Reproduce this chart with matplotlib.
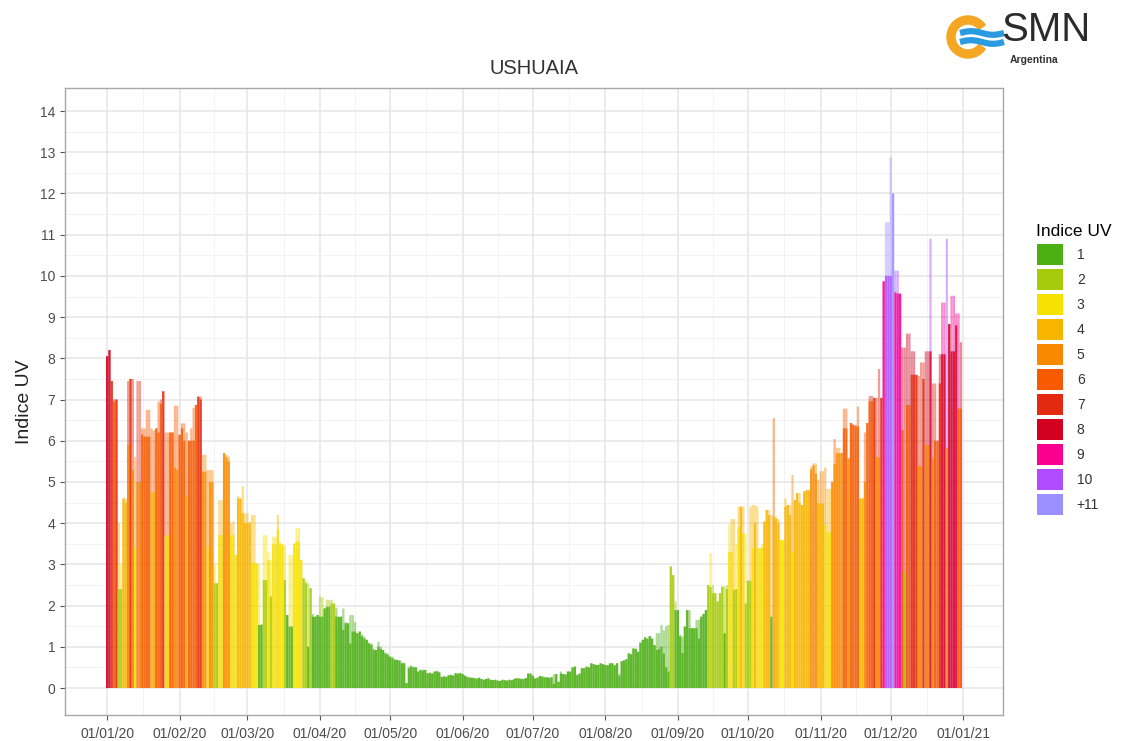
import numpy as np
import pandas as pd
import matplotlib
matplotlib.use('Agg')
import matplotlib.pyplot as plt
import matplotlib.dates as mdates
from matplotlib.patches import Patch, Wedge

plt.rcParams['font.family'] = ['Liberation Sans', 'DejaVu Sans']

# Indice UV diario, Ushuaia 2020 (max = barra clara, obs = barra plena)
max_ene = [8.05, 8.2, 7.45, 7.0, 7.0, 4.0, 3.0, 4.6, 4.6, 7.45, 7.5, 7.5, 5.6, 7.45, 7.45, 6.3,
           6.3, 6.75, 6.75, 6.3, 6.25, 6.3, 6.95, 7.0, 7.2, 6.2, 6.2, 6.2, 6.2, 6.85, 6.85]
obs_ene = [8.05, 8.2, 7.45, 6.95, 7.0, 2.4, 2.4, 4.6, 4.5, 5.9, 7.5, 5.3, 3.4, 5.0, 5.0, 6.15,
           6.1, 6.1, 6.1, 4.75, 4.75, 6.3, 6.2, 6.9, 7.2, 3.7, 3.7, 6.2, 6.2, 5.35, 5.3]
max_feb = [6.15, 6.42, 6.42, 6.2, 6.0, 6.3, 6.8, 6.87, 7.07, 7.07, 5.66, 5.66, 5.29, 5.29, 5.29,
           3.0, 2.54, 4.56, 4.56, 5.7, 5.66, 5.62, 4.0, 4.04, 3.23, 4.65, 4.6, 4.9, 4.24]
obs_feb = [6.14, 6.3, 6.0, 4.65, 6.0, 6.0, 6.0, 6.87, 7.07, 7.0, 5.25, 5.25, 3.43, 5.0, 5.0,
           2.54, 2.54, 3.71, 3.71, 5.7, 5.6, 5.5, 3.71, 3.71, 3.23, 4.6, 4.6, 4.24, 4.0]
max_mar = [4.24, 4.04, 4.2, 4.2, 3.03, 3.0, 1.55, 3.71, 3.71, 3.31, 3.1, 3.67, 3.67, 4.2, 3.55,
           3.5, 3.47, 1.77, 3.23, 3.23, 3.51, 3.88, 3.88, 3.11, 2.66, 2.6, 2.54, 2.42, 1.8, 1.73, 1.77]
obs_mar = [4.0, 4.0, 3.03, 3.03, 3.03, 1.53, 1.53, 2.62, 2.62, 3.1, 2.22, 3.5, 3.5, 3.84, 3.5,
           3.47, 2.62, 1.77, 1.49, 1.49, 3.5, 3.55, 3.55, 3.11, 2.66, 2.54, 1.0, 2.42, 1.73, 1.73, 1.77]
max_abr = [2.22, 2.2, 1.93, 2.14, 2.14, 2.14, 2.05, 1.95, 1.73, 1.73, 1.93, 1.6, 1.57, 1.77, 1.77,
           1.6, 1.33, 1.37, 1.3, 1.25, 1.17, 1.1, 1.08, 0.95, 0.92, 1.12, 1.0, 0.92, 0.85, 0.84]
obs_abr = [1.73, 1.73, 1.93, 1.97, 1.97, 2.05, 2.05, 1.73, 1.73, 1.73, 1.41, 1.57, 1.57, 1.08, 1.37,
           1.37, 1.33, 1.37, 1.25, 1.2, 1.17, 1.08, 1.05, 0.92, 0.92, 1.0, 0.95, 0.92, 0.84, 0.8]
max_may = [0.76, 0.76, 0.7, 0.68, 0.68, 0.62, 0.6, 0.12, 0.52, 0.55, 0.52, 0.5, 0.4, 0.44, 0.45,
           0.44, 0.36, 0.38, 0.36, 0.4, 0.42, 0.4, 0.27, 0.3, 0.28, 0.31, 0.33, 0.31, 0.36, 0.36, 0.37]
obs_may = [0.76, 0.72, 0.68, 0.68, 0.66, 0.6, 0.6, 0.12, 0.48, 0.52, 0.5, 0.5, 0.4, 0.44, 0.42,
           0.44, 0.36, 0.36, 0.35, 0.4, 0.4, 0.38, 0.27, 0.27, 0.27, 0.31, 0.31, 0.3, 0.36, 0.34, 0.36]
max_jun = [0.34, 0.3, 0.27, 0.26, 0.25, 0.24, 0.23, 0.25, 0.22, 0.2, 0.22, 0.24, 0.2, 0.19, 0.2,
           0.18, 0.17, 0.2, 0.19, 0.18, 0.2, 0.19, 0.22, 0.24, 0.23, 0.23, 0.22, 0.24, 0.36, 0.35]
obs_jun = [0.34, 0.3, 0.27, 0.25, 0.25, 0.24, 0.23, 0.25, 0.22, 0.2, 0.22, 0.23, 0.2, 0.19, 0.2,
           0.18, 0.17, 0.2, 0.19, 0.18, 0.2, 0.19, 0.22, 0.24, 0.23, 0.22, 0.22, 0.24, 0.34, 0.35]
max_jul = [0.3, 0.23, 0.25, 0.29, 0.28, 0.26, 0.26, 0.25, 0.26, 0.33, 0.34, 0.15, 0.4, 0.34, 0.33,
           0.4, 0.4, 0.5, 0.52, 0.32, 0.35, 0.48, 0.48, 0.52, 0.5, 0.6, 0.58, 0.56, 0.56, 0.6, 0.58]
obs_jul = [0.3, 0.23, 0.25, 0.29, 0.28, 0.26, 0.26, 0.25, 0.26, 0.1, 0.34, 0.15, 0.35, 0.34, 0.33,
           0.4, 0.4, 0.5, 0.52, 0.32, 0.35, 0.48, 0.48, 0.52, 0.5, 0.6, 0.58, 0.56, 0.56, 0.6, 0.58]
max_ago = [0.56, 0.55, 0.6, 0.6, 0.55, 0.6, 0.35, 0.65, 0.67, 0.7, 0.84, 0.82, 0.96, 0.95, 0.88,
           1.1, 1.17, 1.23, 1.2, 1.26, 1.2, 1.04, 1.33, 1.33, 1.53, 1.4, 1.5, 1.53, 2.95, 2.74, 2.1]
obs_ago = [0.56, 0.55, 0.6, 0.6, 0.55, 0.6, 0.3, 0.65, 0.67, 0.7, 0.84, 0.82, 0.96, 0.95, 0.88,
           1.1, 1.17, 1.23, 1.2, 1.26, 1.2, 1.04, 0.92, 0.95, 1.0, 0.84, 0.5, 0.4, 2.95, 2.74, 1.89]
max_sep = [1.89, 1.3, 1.25, 1.49, 1.89, 1.89, 1.45, 1.45, 1.65, 1.65, 1.73, 1.8, 1.89, 2.5, 3.27,
           2.5, 2.3, 2.1, 2.3, 2.46, 2.46, 2.5, 3.96, 4.1, 4.1, 3.5, 4.4, 4.4, 4.4, 3.75]
obs_sep = [1.89, 1.25, 0.85, 1.49, 1.89, 1.45, 1.45, 1.45, 1.45, 1.2, 1.73, 1.8, 1.89, 2.5, 2.45,
           2.3, 2.3, 2.1, 2.3, 2.46, 1.33, 2.4, 3.3, 3.3, 2.38, 2.4, 3.9, 4.4, 3.75, 2.05]
max_oct = [2.6, 4.4, 4.44, 4.44, 4.4, 3.4, 3.5, 4.04, 4.32, 4.32, 4.2, 6.55, 4.16, 4.1, 3.6,
           3.6, 4.6, 4.44, 4.44, 5.17, 4.56, 4.73, 4.73, 4.44, 4.77, 4.8, 4.8, 5.37, 5.45, 5.45, 5.05]
obs_oct = [2.6, 2.6, 3.4, 4.0, 3.39, 3.39, 3.4, 4.04, 4.32, 4.2, 1.73, 4.16, 4.1, 4.0, 3.59,
           3.59, 4.4, 4.44, 4.2, 3.3, 4.56, 4.73, 4.5, 4.44, 4.77, 4.8, 4.8, 5.3, 5.4, 5.2, 4.48]
max_nov = [5.26, 5.26, 5.35, 4.83, 4.83, 5.0, 6.04, 5.83, 5.83, 5.7, 6.78, 6.78, 5.57, 6.43, 6.39,
           6.39, 6.83, 4.6, 4.6, 6.2, 6.43, 7.09, 7.09, 7.04, 7.04, 7.74, 7.04, 9.87, 11.3, 11.3]
obs_nov = [4.48, 4.48, 3.96, 3.78, 3.78, 5.0, 5.43, 5.7, 5.7, 5.7, 6.3, 6.3, 5.57, 6.43, 6.39,
           6.35, 6.35, 4.6, 4.6, 5.0, 6.43, 6.96, 6.96, 7.04, 5.6, 5.6, 7.04, 9.87, 10.0, 10.0]
max_dic = [12.87, 12.0, 10.13, 10.13, 9.57, 8.26, 8.26, 8.6, 8.6, 8.17, 8.17, 7.6, 7.57, 7.9, 7.9,
           8.17, 8.17, 10.9, 7.39, 7.39, 6.0, 8.1, 9.35, 9.35, 10.9, 8.83, 9.52, 9.52, 9.09, 9.09, 8.39]
obs_dic = [10.0, 12.0, 9.6, 9.57, 9.57, 6.26, 2.83, 6.87, 6.87, 7.6, 7.6, 7.6, 5.39, 5.39, 7.5,
           5.9, 5.9, 8.17, 5.57, 6.0, 6.0, 7.39, 8.1, 8.1, 5.83, 8.83, 8.17, 8.17, 8.8, 6.78, 6.78]

uv_max = (max_ene + max_feb + max_mar + max_abr + max_may + max_jun +
          max_jul + max_ago + max_sep + max_oct + max_nov + max_dic)
uv_obs = (obs_ene + obs_feb + obs_mar + obs_abr + obs_may + obs_jun +
          obs_jul + obs_ago + obs_sep + obs_oct + obs_nov + obs_dic)

categorias = ['1', '2', '3', '4', '5', '6', '7', '8', '9', '10', '+11']
colores = ['#4CAF14', '#A6CB0B', '#F6E100', '#F8B500', '#F98A00', '#F75A00',
           '#E32A10', '#D3001F', '#FA0090', '#B04CFF', '#9C8FFF']


def color_uv(v):
    # categoria = parte entera del indice (1 a +11)
    i = int(np.clip(np.floor(v), 1, 11)) - 1
    return colores[i]


fechas = pd.date_range('2020-01-01', periods=len(uv_max), freq='D')
x = mdates.date2num(fechas)

fig = plt.figure(figsize=(11.29, 7.41), dpi=100)
ax = fig.add_axes([65 / 1129, 1 - 715 / 741, 938 / 1129, 627 / 741])

ax.bar(x, uv_max, width=0.95, color=[color_uv(v) for v in uv_max], alpha=0.45,
       linewidth=0, snap=False)
ax.bar(x, uv_obs, width=0.95, color=[color_uv(v) for v in uv_obs], alpha=0.8,
       linewidth=0, snap=False)

# ejes
meses = pd.date_range('2020-01-01', '2021-01-01', freq='MS')
xt = mdates.date2num(meses)
ax.set_xticks(xt)
ax.set_xticklabels(meses.strftime('%d/%m/%y'))
ax.set_xticks((xt[:-1] + xt[1:]) / 2, minor=True)
ax.set_yticks(np.arange(0, 15, 1))
ax.set_yticks(np.arange(0.5, 14.5, 1), minor=True)
ax.set_xlim(x[0] - 18, x[0] + 383)
ax.set_ylim(-0.655, 14.56)

ax.set_axisbelow(True)
ax.grid(which='major', color='#E6E6E6', linewidth=1.1)
ax.grid(which='minor', color='#F1F1F1', linewidth=0.6)
ax.tick_params(which='major', length=3.5, color='#555555', labelcolor='#4D4D4D', labelsize=10)
ax.tick_params(which='minor', length=0)
ax.tick_params(axis='x', pad=5)
for s in ax.spines.values():
    s.set_color('#A8A8A8')
    s.set_linewidth(1.0)

ax.set_ylabel('Indice UV', fontsize=14, color='#222222', labelpad=5)
ax.set_title('USHUAIA', fontsize=14.5, color='#333333', pad=10)

# leyenda
handles = [Patch(facecolor=c, edgecolor='none') for c in colores]
fig.legend(handles, categorias, title='Indice UV', loc='upper left',
           bbox_to_anchor=(1024 / 1129, 1 - 212 / 741), frameon=False, fontsize=10,
           title_fontsize=12.5, handlelength=1.9, handleheight=1.9, labelspacing=0.32,
           handletextpad=1.0, alignment='left', labelcolor='#333333')

# logo SMN
logo = fig.add_axes([940 / 1129, 1 - 64 / 741, 70 / 1129, 52 / 741])
logo.set_xlim(0, 70)
logo.set_ylim(0, 52)
logo.set_aspect('equal')
logo.axis('off')
logo.add_patch(Wedge((28, 27), 21, 35, 325, width=8, color='#F5A623'))
xs = np.linspace(20, 64, 80)
for y0 in (31, 22):
    logo.plot(xs, y0 + 1.8 * np.sin((xs - 20) / 44 * 2 * np.pi), color='#2A9BE0',
              lw=4.5, solid_capstyle='butt')
fig.text(1001 / 1129, 1 - 30 / 741, 'SMN', fontsize=29, color='#2B2B2B', va='center', ha='left')
fig.text(1010 / 1129, 1 - 60 / 741, 'Argentina', fontsize=7.5, color='#333333',
         fontweight='bold', va='center', ha='left')

fig.savefig('out.png', dpi=100)
